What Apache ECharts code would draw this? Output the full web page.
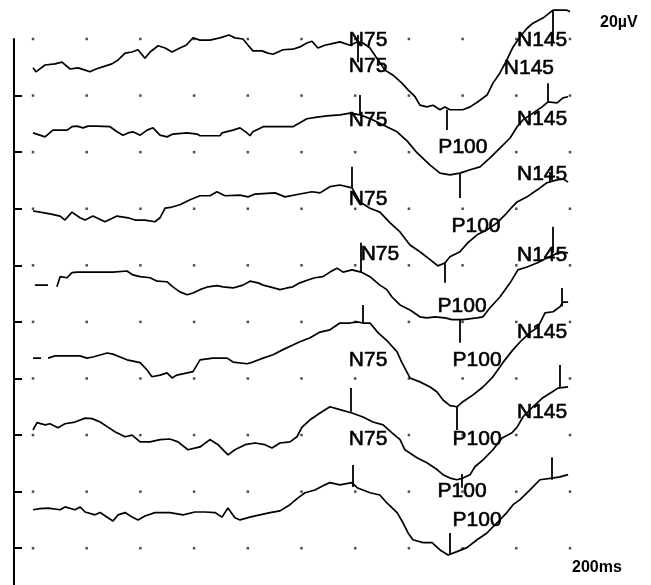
<!DOCTYPE html>
<html><head><meta charset="utf-8">
<script src="https://cdn.jsdelivr.net/npm/echarts@6/dist/echarts.min.js"></script>
<style>html,body{margin:0;padding:0;background:#fff}#c{width:651px;height:585px}</style>
</head><body><div id="c"></div>
<script>
// x: time in ms (one grid division = 20 ms); y: vertical position in divisions (top row = 0)
const gridTimes = [0,20,40,60,80,100,120,140,160,180,200];
const gridRows = [0,1,2,3,4,5,6,7,8,9];
const axisTickRows = [1,2,3,4,5,6,7,8,9];

const trace1 = [[0,0.51],[1.1,0.58],[4.5,0.46],[8.2,0.44],[10.8,0.41],[13.8,0.53],[16.8,0.51],[19.4,0.55],[21.2,0.58],[23.5,0.53],[26.8,0.48],[29.4,0.44],[31.7,0.37],[34.3,0.25],[36.9,0.23],[39.1,0.19],[41.7,0.34],[43.6,0.23],[46.6,0.12],[49.2,0.16],[51.8,0.23],[54.7,0.16],[57.0,0.11],[59.6,-0.02],[62.2,0.02],[65.9,0.02],[69.6,-0.02],[73.0,-0.07],[75.2,-0.02],[78.2,0.0],[80.1,0.11],[81.9,0.21],[85.3,0.21],[87.5,0.25],[89.4,0.27],[93.1,0.19],[96.8,0.18],[99.4,0.14],[102.0,0.07],[103.9,0.04],[106.1,0.16],[108.7,0.11],[110.6,0.09],[114.3,0.05],[118.1,0.11],[121.0,0.05],[122.9,0.07],[125.5,0.16],[128.5,0.37],[131.1,0.55],[134.1,0.64],[137.4,0.78],[139.7,0.90],[142.3,1.02],[144.1,1.17],[146.7,1.20],[149.0,1.17],[151.6,1.25],[153.4,1.20],[155.3,1.25],[160.1,1.25],[162.8,1.20],[165.7,1.11],[169.1,0.99],[171.3,0.78],[173.9,0.60],[176.5,0.37],[178.8,0.14],[181.4,-0.04],[184.0,-0.19],[186.2,-0.28],[189.9,-0.37],[193.7,-0.51],[198.9,-0.51],[200,-0.48]];
const trace2 = [[0,1.66],[4.5,1.73],[7.4,1.61],[12.7,1.61],[14.5,1.55],[16.4,1.54],[18.6,1.57],[20.5,1.54],[23.8,1.54],[28.7,1.55],[31.3,1.64],[33.5,1.70],[35.4,1.66],[37.2,1.64],[39.9,1.70],[42.5,1.61],[44.7,1.57],[47.3,1.70],[49.9,1.73],[52.1,1.68],[57.4,1.66],[61.1,1.68],[62.2,1.71],[69.6,1.71],[70.4,1.66],[74.5,1.61],[77.1,1.57],[79.7,1.66],[80.8,1.71],[81.9,1.64],[85.7,1.55],[89.4,1.55],[96.8,1.55],[99.4,1.48],[102.0,1.41],[105.8,1.38],[109.5,1.36],[114.3,1.34],[118.1,1.31],[121.8,1.34],[126.6,1.43],[130.4,1.52],[135.6,1.64],[139.3,1.80],[143.0,2.01],[147.9,2.23],[151.6,2.37],[155.3,2.40],[159.0,2.37],[162.8,2.31],[166.5,2.26],[170.2,2.10],[173.9,1.93],[177.7,1.75],[180.3,1.55],[182.5,1.43],[186.2,1.31],[189.6,1.20],[191.8,1.11],[195.2,1.13],[197.4,1.04],[199.3,1.02]];
const trace3 = [[0,3.04],[2.6,3.06],[6.3,3.09],[10.1,3.13],[11.9,3.20],[14.5,3.06],[17.5,3.16],[19.4,3.20],[22.3,3.13],[26.8,3.23],[31.3,3.13],[35.4,3.16],[38.0,3.20],[41.7,3.20],[45.4,3.23],[47.3,3.16],[49.2,2.99],[51.8,2.97],[54.7,2.93],[58.5,2.84],[62.2,2.77],[65.9,2.77],[68.5,2.70],[71.5,2.77],[77.1,2.76],[80.1,2.79],[82.7,2.74],[90.1,2.72],[93.9,2.79],[99.4,2.74],[103.9,2.70],[106.9,2.72],[110.6,2.61],[114.3,2.58],[118.8,2.63],[121.8,2.88],[125.5,2.99],[129.2,3.06],[133.0,3.25],[136.7,3.41],[140.4,3.64],[144.1,3.76],[147.9,3.90],[150.8,4.01],[153.4,3.96],[155.3,3.85],[159.0,3.76],[162.0,3.60],[165.4,3.46],[169.1,3.37],[172.8,3.25],[175.8,3.11],[178.4,2.97],[180.3,2.88],[184.0,2.79],[187.7,2.67],[191.4,2.54],[195.2,2.49],[197.4,2.47],[199.3,2.53]];
const trace4 = [[0.7,4.35],[5.6,4.35],[7.2,null],[8.9,4.38],[10.1,4.20],[12.7,4.22],[14.5,4.13],[16.4,4.12],[20.1,4.12],[25.0,4.12],[29.8,4.12],[35.0,4.10],[37.2,4.17],[39.9,4.20],[43.6,4.22],[46.2,4.28],[49.9,4.29],[52.1,4.38],[54.7,4.47],[57.4,4.52],[59.6,4.49],[62.2,4.43],[65.2,4.38],[68.5,4.36],[70.8,4.38],[74.5,4.40],[78.2,4.35],[80.8,4.28],[83.8,4.31],[85.7,4.35],[88.3,4.38],[92.0,4.43],[94.6,4.40],[96.8,4.38],[99.4,4.31],[102.4,4.26],[105.0,4.22],[108.0,4.20],[110.6,4.12],[113.2,4.05],[115.5,4.12],[118.8,4.08],[122.2,4.12],[125.5,4.20],[129.2,4.35],[131.8,4.43],[133.7,4.56],[136.7,4.70],[140.4,4.79],[144.1,4.91],[146.7,4.93],[149.7,4.91],[153.4,4.93],[156.1,4.96],[160.1,4.96],[165.4,4.93],[167.6,4.91],[170.2,4.75],[173.9,4.56],[177.7,4.31],[180.6,4.08],[184.0,4.03],[187.7,3.96],[191.4,3.87],[193.7,3.82],[196.3,3.76],[199.3,3.78]];
const trace5 = [[0,5.64],[3.0,5.64],[4.3,null],[5.6,5.64],[8.2,5.60],[12.7,5.60],[17.5,5.60],[20.1,5.64],[22.3,5.62],[27.6,5.55],[29.8,5.57],[32.4,5.62],[35.0,5.67],[39.9,5.72],[42.5,5.85],[44.3,5.97],[47.3,5.94],[49.9,5.90],[51.8,5.99],[53.6,5.94],[57.4,5.90],[59.6,5.88],[62.2,5.67],[67.0,5.64],[72.3,5.64],[74.5,5.71],[79.7,5.74],[81.9,5.71],[85.7,5.64],[89.4,5.58],[93.1,5.49],[96.8,5.41],[99.4,5.35],[103.2,5.28],[106.9,5.18],[110.6,5.14],[114.3,5.02],[118.1,5.02],[120.7,5.00],[122.9,5.02],[125.5,5.02],[128.5,5.19],[132.2,5.35],[135.6,5.53],[137.4,5.72],[140.4,5.99],[144.1,6.06],[147.9,6.15],[150.5,6.24],[152.7,6.38],[155.3,6.48],[157.9,6.50],[160.1,6.41],[163.9,6.29],[167.6,6.15],[171.3,5.97],[175.0,5.72],[178.8,5.49],[182.1,5.32],[185.1,5.19],[188.1,5.09],[190.7,4.84],[193.7,4.82],[196.3,4.73],[197.4,4.65],[199.3,4.65]];
const trace6 = [[0,6.91],[1.5,6.78],[4.5,6.82],[6.3,6.80],[9.3,6.87],[11.9,6.80],[15.6,6.77],[19.4,6.70],[22.0,6.71],[25.0,6.77],[27.9,6.86],[30.5,6.94],[34.3,7.03],[36.9,7.00],[39.9,7.12],[43.6,7.12],[47.3,7.08],[51.0,7.07],[54.0,7.12],[57.7,7.26],[62.2,7.21],[65.9,7.08],[68.9,7.17],[72.6,7.35],[75.2,7.26],[79.0,7.17],[82.7,7.14],[86.4,7.17],[89.0,7.23],[92.0,7.14],[95.7,7.12],[98.3,7.03],[100.2,6.86],[103.2,6.73],[106.9,6.61],[110.6,6.50],[114.3,6.55],[118.8,6.61],[122.9,6.68],[126.6,6.77],[130.4,6.82],[133.7,6.96],[136.7,7.08],[138.5,7.26],[143.0,7.40],[146.7,7.49],[150.5,7.61],[152.7,7.70],[155.3,7.76],[157.9,7.79],[160.1,7.76],[162.8,7.70],[164.6,7.56],[167.6,7.44],[171.3,7.26],[174.7,7.05],[178.4,6.96],[180.3,6.86],[182.5,6.68],[186.2,6.50],[189.9,6.34],[193.3,6.24],[195.5,6.17],[199.3,6.15]];
const trace7 = [[0,8.32],[2.6,8.30],[5.6,8.29],[10.1,8.32],[11.9,8.27],[15.6,8.32],[17.5,8.27],[19.4,8.36],[23.1,8.41],[25.0,8.37],[27.9,8.46],[29.8,8.52],[31.7,8.41],[34.3,8.37],[36.9,8.45],[39.1,8.50],[41.7,8.43],[45.4,8.37],[51.0,8.37],[55.9,8.41],[60.3,8.36],[64.1,8.36],[67.8,8.37],[70.4,8.45],[72.6,8.29],[75.2,8.46],[77.1,8.50],[80.8,8.45],[84.5,8.41],[88.3,8.37],[92.0,8.34],[95.7,8.23],[98.7,8.11],[101.3,8.02],[105.0,7.97],[108.7,7.88],[110.6,7.84],[114.3,7.88],[118.8,7.84],[120.7,7.93],[125.5,8.02],[129.2,8.06],[131.8,8.20],[135.6,8.37],[137.8,8.55],[139.7,8.73],[141.5,8.85],[145.3,8.90],[148.6,8.90],[151.6,9.03],[154.6,9.12],[157.9,9.06],[161.6,8.99],[165.4,8.85],[169.1,8.73],[172.8,8.55],[176.5,8.37],[178.8,8.23],[181.4,8.14],[185.1,7.97],[188.8,7.79],[193.3,7.76],[196.3,7.74],[199.3,7.70]];
const traces = [trace1, trace2, trace3, trace4, trace5, trace6, trace7];

// peak markers: [time, top, bottom]
const n75Marks  = [[121.0,-0.07,0.41],[121.8,0.99,1.34],[118.8,2.26,2.63],[122.2,3.60,4.12],[122.9,4.70,5.02],[118.4,6.17,6.59],[119.2,7.53,7.92]];
const p100Marks = [[154.2,1.25,1.61],[159.0,2.37,2.81],[153.4,3.94,4.31],[159.0,4.96,5.37],[157.9,6.50,6.91],[159.8,7.69,7.93],[155.3,8.73,9.12]];
const n145Marks = [[193.7,-0.51,0.07],[191.8,0.78,1.11],[192.6,2.35,2.53],[193.7,3.32,3.78],[197.0,4.40,4.73],[196.3,5.76,6.17],[193.3,7.39,7.79]];

// peak label positions: [time, row]
const n75Labels  = [[124.8,0.02],[124.8,0.48],[124.8,1.43],[124.8,2.84],[129.2,3.80],[124.8,5.67],[124.8,7.08]];
const p100Labels = [[160.1,1.91],[165.0,3.30],[159.8,4.72],[165.4,5.67],[165.4,7.07],[159.8,7.99],[165.4,8.50]];
const n145Labels = [[189.6,0.02],[184.7,0.51],[189.6,1.41],[189.6,2.39],[189.6,3.82],[189.6,5.19],[189.6,6.59]];
const peakNames = ['N75','P100','N145'];
const scaleTexts = ['20µV','200ms'];

const chart = echarts.init(document.getElementById('c'), null, {renderer:'canvas'});
const dots = [];
gridRows.forEach(r => gridTimes.forEach(t => dots.push([t, r])));

const series = [];
series.push({type:'scatter', data:dots, symbol:'rect', symbolSize:2.5, itemStyle:{color:'#222'}, silent:true, z:1});
traces.forEach(tr => {
  series.push({type:'line', data: tr.map(p => p[1] === null ? [p[0], '-'] : p), showSymbol:false, symbol:'none',
    clip:false, connectNulls:false, lineStyle:{color:'#000', width:1.7}, z:3});
});
const markLines = [].concat(n75Marks, p100Marks, n145Marks).map(m => ({coords:[[m[0], m[1]],[m[0], m[2]]]}));
series.push({type:'lines', coordinateSystem:'cartesian2d', data:markLines, clip:false,
  lineStyle:{color:'#000', width:1.8, opacity:1}, z:4});
[n75Labels, p100Labels, n145Labels].forEach((arr, i) => {
  series.push({type:'scatter', data: arr.map(p => ({value:p, name:peakNames[i]})), symbolSize:1,
    itemStyle:{color:'rgba(0,0,0,0)'}, clip:false, z:5,
    label:{show:true, position:'inside', formatter:'{b}', color:'#000', opacity:1,
      textBorderColor:'#000', textBorderWidth:0.6,
      fontFamily:'"Liberation Sans", Arial, sans-serif', fontSize:21}});
});

chart.setOption({
  animation:false,
  backgroundColor:'#fff',
  // the amplitude axis sits a little to the left of the first time sample
  grid:{left:14, top:39, right:81, bottom:0, outerBoundsMode:'none', containLabel:false},
  xAxis:{type:'value', min:-7.08, max:200, show:false},
  yAxis:{type:'value', min:0, max:9.65, interval:1, inverse:true,
    axisLine:{show:true, onZero:false, lineStyle:{color:'#000', width:2}},
    axisTick:{show:true, inside:true, length:8, lineStyle:{color:'#000', width:2}, customValues:axisTickRows},
    axisLabel:{show:false}, splitLine:{show:false}},
  graphic:[
    {type:'text', left:600, top:15, style:{text:scaleTexts[0], font:'bold 16px "Liberation Sans", Arial, sans-serif', fill:'#000'}},
    {type:'text', left:572, top:560, style:{text:scaleTexts[1], font:'bold 16px "Liberation Sans", Arial, sans-serif', fill:'#000'}}
  ],
  series: series
});
</script></body></html>
